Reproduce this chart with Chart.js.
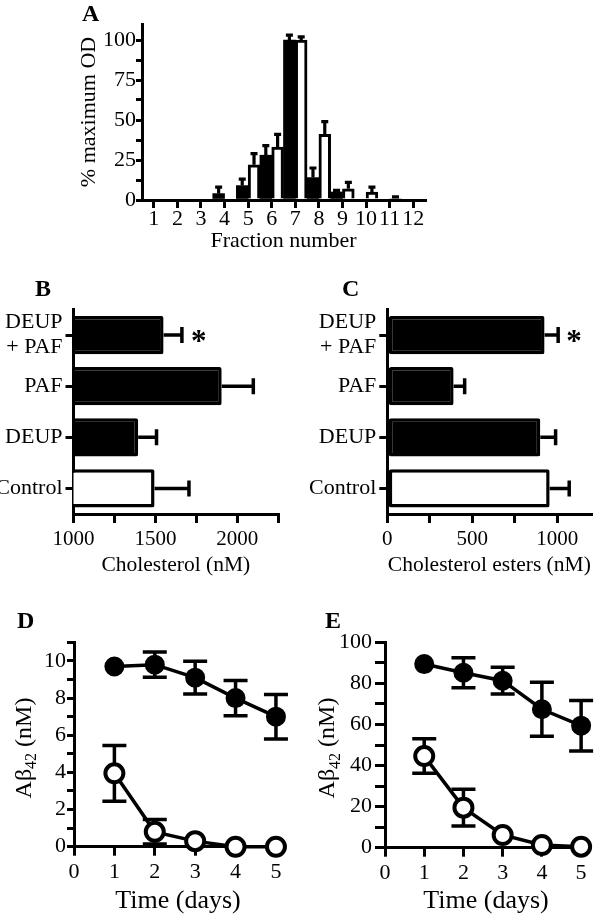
<!DOCTYPE html>
<html>
<head>
<meta charset="utf-8">
<script src="https://cdn.jsdelivr.net/npm/chart.js@4.4.1/dist/chart.umd.min.js"></script>
<style>
  html, body { margin: 0; padding: 0; background: #fff; }
  body { width: 600px; height: 916px; position: relative; overflow: hidden; }
  canvas { position: absolute; }
  .tag { position: absolute; font-family: 'Liberation Serif', 'Times New Roman', serif; font-weight: bold; font-size: 24px; line-height: 1; color: #000; }
</style>
</head>
<body>
<canvas id="chartA" width="450" height="262" style="left:0;top:0"></canvas>
<canvas id="chartB" width="300" height="300" style="left:0;top:280px"></canvas>
<canvas id="chartC" width="300" height="300" style="left:300px;top:280px"></canvas>
<canvas id="chartD" width="300" height="306" style="left:0;top:610px"></canvas>
<canvas id="chartE" width="300" height="306" style="left:300px;top:610px"></canvas>
<div class="tag" style="left:82px;top:1px">A</div>
<div class="tag" style="left:35px;top:276px">B</div>
<div class="tag" style="left:342px;top:276px">C</div>
<div class="tag" style="left:17px;top:608px">D</div>
<div class="tag" style="left:325px;top:608px">E</div>
<script>
const SERIF = "'Liberation Serif', 'Times New Roman', Times, serif";
const INK = '#000';

// ── A: perfil de elución por fracción ────────────────────────────
const fractions   = ['1', '2', '3', '4', '5', '6', '7', '8', '9', '10', '11', '12'];
const odFilled    = [0, 0, 0, 4, 9, 28, 100, 14, 5, 0, 0, 0];
const odFilledErr = [0, 0, 0, 4, 4, 6, 3, 6, 1, 0, 0, 0];
const odOpen      = [0, 0, 0, 0, 22, 33, 100, 41, 7, 5, 1, 0];
const odOpenErr   = [0, 0, 0, 0, 7, 8, 2, 8, 4, 3, 1, 0];
const odTicks  = [0, 12.5, 25, 37.5, 50, 62.5, 75, 87.5, 100];
const odLabels = [0, 25, 50, 75, 100];

// ── B, C: colesterol y ésteres ──────────────────────────────────
const groups = [['DEUP', '+ PAF'], 'PAF', 'DEUP', 'Control'];
const cholesterol    = [1550, 1905, 1395, 1495];
const cholesterolErr = [112, 193, 112, 210];
const cholTicks  = [1000, 1250, 1500, 1750, 2000, 2250];
const cholLabels = [1000, 1500, 2000];
const esters    = [925, 390, 900, 955];
const estersErr = [80, 65, 90, 115];
const esterTicks  = [0, 250, 500, 750, 1000];
const esterLabels = [0, 500, 1000];

// ── D, E: Aβ42 en el tiempo ─────────────────────────────────────
const days = [1, 2, 3, 4, 5];
const dayTicks = [0, 1, 2, 3, 4, 5];
const abFilledD    = [9.7, 9.8, 9.1, 8.0, 7.0];
const abFilledDErr = [0, 0.68, 0.88, 0.95, 1.2];
const abOpenD      = [3.95, 0.8, 0.3, 0, 0];
const abOpenDErr   = [1.5, 0.66, 0, 0, 0];
const abTicksD  = [0, 1, 2, 3, 4, 5, 6, 7, 8, 9, 10, 11];
const abLabelsD = [0, 2, 4, 6, 8, 10];
const abFilledE    = [89.4, 85.2, 81.3, 67.4, 59.4];
const abFilledEErr = [0, 7.3, 6.5, 13.1, 12.3];
const abOpenE      = [44.6, 19.5, 6.2, 1.3, 0.5];
const abOpenEErr   = [8.4, 8.9, 0, 0, 0];
const abTicksE  = [0, 10, 20, 30, 40, 50, 60, 70, 80, 90, 100];
const abLabelsE = [0, 20, 40, 60, 80, 100];

// caja del canvas + área de dibujo deseada (coordenadas de página)
function frame(box, area) {
  return {
    box,
    padding: { left: 0, top: area.t - box.y, right: box.x + box.w - area.r, bottom: 0 },
    yWidth: area.l - box.x,
    xHeight: box.y + box.h - area.b,
  };
}
const fA = frame({ x: 0, y: 0, w: 450, h: 262 },   { l: 142, t: 24, r: 425, b: 200 });
const fB = frame({ x: 0, y: 280, w: 300, h: 300 }, { l: 73.5, t: 309.5, r: 278.2, b: 514 });
const fC = frame({ x: 300, y: 280, w: 300, h: 300 }, { l: 387.3, t: 309.5, r: 591.3, b: 514 });
const fD = frame({ x: 0, y: 610, w: 300, h: 306 }, { l: 74, t: 642.4, r: 282, b: 846.7 });
const fE = frame({ x: 300, y: 610, w: 300, h: 306 }, { l: 385, t: 642.3, r: 592, b: 847.7 });

const font = (size, lineHeight = 1) => ({ family: SERIF, size, lineHeight });

function axisLook(tl) {
  return {
    grid: { display: true, drawOnChartArea: false, drawTicks: true, tickLength: tl, lineWidth: 3, color: INK, offset: false },
    border: { display: true, width: 3, color: INK },
  };
}

function linearAxis(o) {
  return {
    type: 'linear', min: o.min, max: o.max,
    ...axisLook(o.tl),
    afterBuildTicks: s => { s.ticks = o.ticks.map(v => ({ value: v })); },
    ticks: {
      color: INK, font: font(o.size), padding: o.pad, autoSkip: false, maxRotation: 0,
      callback: v => o.labels.includes(v) ? String(v) : '',
    },
    afterFit: s => { if (s.isHorizontal()) s.height = o.fit; else s.width = o.fit; },
    title: o.title
      ? { display: true, text: o.title, color: INK, font: font(o.titleSize), padding: o.titlePad }
      : { display: false },
  };
}

function categoryAxis(o) {
  return {
    type: 'category', offset: true,
    ...axisLook(o.tl),
    ticks: { color: INK, font: font(o.size, o.lh || 1), padding: o.pad, autoSkip: false, maxRotation: 0 },
    afterFit: s => { if (s.isHorizontal()) s.height = o.fit; else s.width = o.fit; },
    title: o.title
      ? { display: true, text: o.title, color: INK, font: font(o.titleSize), padding: o.titlePad }
      : { display: false },
  };
}

// barras de error (media ± EEM) dibujadas con las escalas del gráfico
const errorBars = {
  id: 'errorBars',
  beforeDatasetsDraw(chart, args, o) { if (o.stage === 'before') drawErrors(chart, o); },
  afterDatasetsDraw(chart, args, o) { if (o.stage === 'after') drawErrors(chart, o); },
};
function drawErrors(chart, o) {
  const { ctx } = chart;
  const horiz = chart.options.indexAxis === 'y';
  const vScale = horiz ? chart.scales.x : chart.scales.y;
  ctx.save();
  ctx.strokeStyle = INK;
  ctx.lineWidth = o.width;
  chart.data.datasets.forEach((ds, di) => {
    if (!ds.errors) return;
    chart.getDatasetMeta(di).data.forEach((el, i) => {
      const err = ds.errors[i];
      if (!err) return;
      const raw = ds.data[i];
      const v = typeof raw === 'object' ? raw.y : raw;
      const hi = vScale.getPixelForValue(v + err);
      const lo = vScale.getPixelForValue(o.both ? v - err : v);
      ctx.beginPath();
      if (horiz) {
        ctx.moveTo(lo, el.y); ctx.lineTo(hi, el.y);
        ctx.moveTo(hi, el.y - o.cap); ctx.lineTo(hi, el.y + o.cap);
      } else {
        ctx.moveTo(el.x, lo); ctx.lineTo(el.x, hi);
        ctx.moveTo(el.x - o.cap, hi); ctx.lineTo(el.x + o.cap, hi);
        if (o.both) { ctx.moveTo(el.x - o.cap, lo); ctx.lineTo(el.x + o.cap, lo); }
      }
      ctx.stroke();
    });
  });
  ctx.restore();
}

// asterisco de significación junto a la barra de error
const star = {
  id: 'star',
  afterDatasetsDraw(chart, args, o) {
    const { ctx } = chart;
    const ds = chart.data.datasets[0];
    const el = chart.getDatasetMeta(0).data[o.index];
    const x = chart.scales.x.getPixelForValue(ds.data[o.index] + ds.errors[o.index]) + o.dx;
    ctx.save();
    ctx.fillStyle = INK;
    ctx.font = `bold 31px ${SERIF}`;
    ctx.textAlign = 'left';
    ctx.textBaseline = 'alphabetic';
    ctx.fillText('*', x, el.y + o.dy);
    ctx.restore();
  },
};

// título del eje Y con subíndice: Aβ42 (nM)
const abTitle = {
  id: 'abTitle',
  afterDraw(chart, args, o) {
    const { ctx } = chart;
    const big = `${o.size}px ${SERIF}`;
    const small = `${Math.round(o.size * 0.68)}px ${SERIF}`;
    const base = o.size * 0.24;
    const parts = [['Aβ', big, base], ['42', small, base + o.size * 0.22], [' (nM)', big, base]];
    ctx.save();
    ctx.translate(o.x, o.y);
    ctx.rotate(-Math.PI / 2);
    ctx.fillStyle = INK;
    ctx.textBaseline = 'alphabetic';
    ctx.textAlign = 'left';
    let total = 0;
    parts.forEach(p => { ctx.font = p[1]; total += ctx.measureText(p[0]).width; });
    let x = -total / 2;
    parts.forEach(p => { ctx.font = p[1]; ctx.fillText(p[0], x, p[2]); x += ctx.measureText(p[0]).width; });
    ctx.restore();
  },
};

const base = f => ({
  responsive: false, animation: false, devicePixelRatio: 1,
  layout: { padding: f.padding },
  events: [],
});
const quiet = { legend: { display: false }, tooltip: { enabled: false } };

// ── A ──
new Chart(document.getElementById('chartA'), {
  type: 'bar',
  data: {
    labels: fractions,
    datasets: [
      { data: odFilled, errors: odFilledErr, backgroundColor: INK, borderWidth: 0, barPercentage: 1, categoryPercentage: 1 },
      { data: odOpen, errors: odOpenErr, backgroundColor: '#fff', borderColor: INK, borderWidth: 3, barPercentage: 1, categoryPercentage: 1 },
    ],
  },
  options: {
    ...base(fA),
    plugins: { ...quiet, errorBars: { stage: 'after', cap: 3.5, width: 3.2, both: false } },
    scales: {
      x: categoryAxis({ tl: 8, size: 22, pad: 0, fit: fA.xHeight, title: 'Fraction number', titleSize: 22, titlePad: { top: 0, bottom: 10 } }),
      y: linearAxis({ min: 0, max: 110, ticks: odTicks, labels: odLabels, tl: 6, size: 22, pad: 0, fit: fA.yWidth,
        title: '% maximum OD', titleSize: 22, titlePad: { top: 78, bottom: 0 } }),
    },
  },
  plugins: [errorBars],
});

// ── B, C ──
function groupChart(id, f, values, errs, min, max, ticks, labels, title, starDx) {
  return new Chart(document.getElementById(id), {
    type: 'bar',
    data: {
      labels: groups,
      datasets: [{
        data: values, errors: errs,
        backgroundColor: c => groups[c.dataIndex] === 'Control' ? '#fff' : INK,
        borderColor: INK, borderWidth: 3.5, borderSkipped: false, borderRadius: 2,
        barPercentage: 0.75, categoryPercentage: 1,
      }],
    },
    options: {
      ...base(f),
      indexAxis: 'y',
      plugins: { ...quiet, errorBars: { stage: 'after', cap: 8, width: 3.5, both: false }, star: { index: 0, dx: starDx, dy: 16 } },
      scales: {
        x: linearAxis({ min, max, ticks, labels, tl: 9, size: 21, pad: 6, fit: f.xHeight,
          title, titleSize: 21.5, titlePad: { top: 0, bottom: 3.5 } }),
        y: categoryAxis({ tl: 8, size: 22, lh: 1.15, pad: 3, fit: f.yWidth }),
      },
    },
    plugins: [errorBars, star],
  });
}
groupChart('chartB', fB, cholesterol, cholesterolErr, 1000, 2250, cholTicks, cholLabels, 'Cholesterol (nM)', 9);
groupChart('chartC', fC, esters, estersErr, 0, 1200, esterTicks, esterLabels, 'Cholesterol esters (nM)', 8);

// ── D, E ──
function timeChart(id, f, filled, filledErr, open, openErr, yMax, yTicks, yLabels, yTl, yPad, titleX) {
  const pts = arr => days.map((d, i) => ({ x: d, y: arr[i] }));
  const line = { borderColor: INK, borderWidth: 3.5, tension: 0, clip: false, pointRadius: 9, pointBorderColor: INK };
  return new Chart(document.getElementById(id), {
    type: 'line',
    data: {
      datasets: [
        { ...line, data: pts(filled), errors: filledErr, pointBackgroundColor: INK, pointBorderWidth: 2 },
        { ...line, data: pts(open), errors: openErr, pointBackgroundColor: '#fff', pointBorderWidth: 4 },
      ],
    },
    options: {
      ...base(f),
      plugins: {
        ...quiet,
        errorBars: { stage: 'before', cap: 12, width: 3.5, both: true },
        abTitle: { x: titleX - f.box.x, y: 748 - f.box.y, size: 24 },
      },
      scales: {
        x: linearAxis({ min: 0, max: 5.15, ticks: dayTicks, labels: dayTicks, tl: 9, size: 22, pad: 6, fit: f.xHeight,
          title: 'Time (days)', titleSize: 26, titlePad: { top: 0, bottom: 1.5 } }),
        y: linearAxis({ min: 0, max: yMax, ticks: yTicks, labels: yLabels, tl: yTl, size: 22, pad: yPad, fit: f.yWidth }),
      },
    },
    plugins: [errorBars, abTitle],
  });
}
timeChart('chartD', fD, abFilledD, abFilledDErr, abOpenD, abOpenDErr, 11, abTicksD, abLabelsD, 7, 1, 25);
timeChart('chartE', fE, abFilledE, abFilledEErr, abOpenE, abOpenEErr, 100, abTicksE, abLabelsE, 10, 3, 328.5);
</script>
</body>
</html>
